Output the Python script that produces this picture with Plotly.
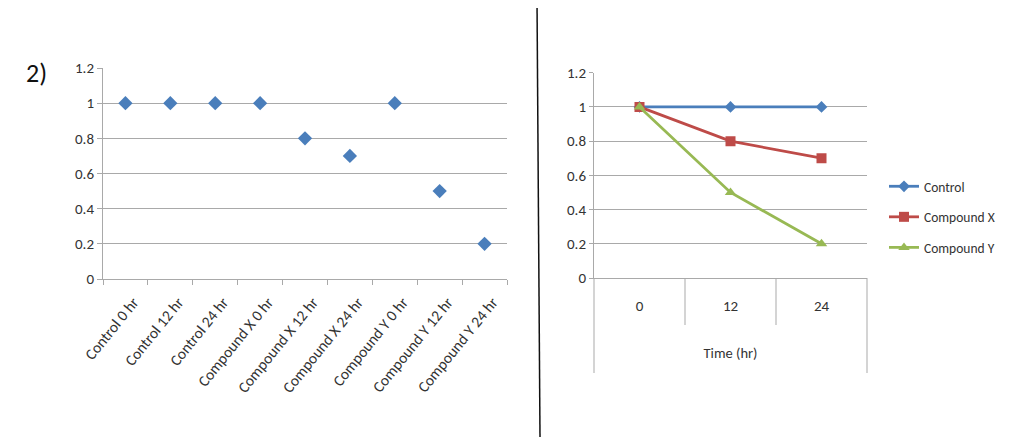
import plotly.graph_objects as go

# ---- data ----
left_categories = ["Control 0 hr", "Control 12 hr", "Control 24 hr",
                   "Compound X 0 hr", "Compound X 12 hr", "Compound X 24 hr",
                   "Compound Y 0 hr", "Compound Y 12 hr", "Compound Y 24 hr"]
left_values = [1, 1, 1, 1, 0.8, 0.7, 1, 0.5, 0.2]

time_labels = ["0", "12", "24"]
control_values = [1, 1, 1]
compound_x_values = [1, 0.8, 0.7]
compound_y_values = [1, 0.5, 0.2]
y_ticks = [0, 0.2, 0.4, 0.6, 0.8, 1, 1.2]
y_tick_text = ["0", "0.2", "0.4", "0.6", "0.8", "1", "1.2"]

W, H = 1024, 443
OFF = 8  # page body margin
FONT = "Carlito, Liberation Sans Narrow, Open Sans, sans-serif"
TXT = "#333333"
GRID = "#A9A9A9"
BLUE, RED, GREEN = "#4A7EBB", "#BE4B48", "#98B954"

def py(p):  # screen pixel row -> paper y
    return 1 - (p - OFF) / H

def px(p):  # screen pixel column -> paper x
    return (p - OFF) / W

fig = go.Figure()

fig.add_trace(go.Scatter(x=left_categories, y=left_values, mode="markers",
                         marker=dict(symbol="diamond", size=11, color=BLUE),
                         xaxis="x", yaxis="y", showlegend=False))

series = [("Control", control_values, BLUE, "diamond", 9),
          ("Compound X", compound_x_values, RED, "square", 10),
          ("Compound Y", compound_y_values, GREEN, "triangle-up", 10)]
for name, vals, col, sym, sz in series:
    fig.add_trace(go.Scatter(x=time_labels, y=vals, mode="lines+markers", name=name,
                             line=dict(color=col, width=2.8),
                             marker=dict(symbol=sym, size=sz, color=col),
                             xaxis="x2", yaxis="y2", legendgroup=name))

yax_common = dict(range=[0, 1.2], tickvals=y_ticks, ticktext=y_tick_text,
                  showgrid=True, gridcolor=GRID, gridwidth=1,
                  showline=True, linecolor=GRID, linewidth=1,
                  ticks="outside", ticklen=5, tickcolor=GRID,
                  zeroline=False, automargin=False,
                  tickfont=dict(family=FONT, size=15, color=TXT),
                  fixedrange=True)

fig.update_layout(
    width=W, height=H,
    margin=dict(l=0, r=0, t=0, b=0, pad=0),
    paper_bgcolor="white", plot_bgcolor="white",
    font=dict(family=FONT, color=TXT),
    xaxis=dict(domain=[px(103), px(507)], anchor="y", type="category",
               range=[-0.5, len(left_categories) - 0.5], automargin=False,
               showline=True, linecolor=GRID, ticks="outside", ticklen=5,
               tickcolor=GRID, tickson="boundaries", showgrid=False,
               tickangle=-51, ticklabelstandoff=7, ticklabelshift=8,
               tickfont=dict(family=FONT, size=15.5, color=TXT)),
    yaxis=dict(domain=[py(279), py(68)], anchor="x", **yax_common),
    xaxis2=dict(domain=[px(594), px(867)], anchor="y2", type="category",
                range=[-0.5, len(time_labels) - 0.5], automargin=False,
                showline=True, linecolor=GRID, ticks="", showgrid=False,
                ticklabelstandoff=14,
                tickfont=dict(family=FONT, size=15, color=TXT),
                title=dict(text="Time (hr)", standoff=33,
                           font=dict(family=FONT, size=14.5, color=TXT))),
    yaxis2=dict(domain=[py(278), py(72.7)], anchor="x2", **yax_common),
    legend=dict(x=px(884), y=py(217), xanchor="left", yanchor="middle",
                font=dict(family=FONT, size=13.5, color=TXT),
                tracegroupgap=10, itemwidth=30, bgcolor="rgba(0,0,0,0)"),
    showlegend=True,
)
fig.update_yaxes(ticklen=4, selector=dict(anchor="x2"))

# table-style category boundaries below the right chart
n = len(time_labels)
for k in range(n + 1):
    outer = k in (0, n)
    fig.add_shape(type="line", xref="x2 domain", yref="paper",
                  x0=k / n, x1=k / n, y0=py(278), y1=py(373 if outer else 325),
                  line=dict(color=GRID, width=1))

# divider between the two panels
fig.add_shape(type="line", xref="paper", yref="paper",
              x0=px(537), x1=px(540), y0=py(0), y1=py(437),
              line=dict(color="#111111", width=1.5))

fig.add_annotation(text="2)", xref="paper", yref="paper", x=px(24), y=py(73),
                   xanchor="left", yanchor="middle", showarrow=False,
                   font=dict(family=FONT, size=26, color="#111111"))

fig.write_html("out.html")
